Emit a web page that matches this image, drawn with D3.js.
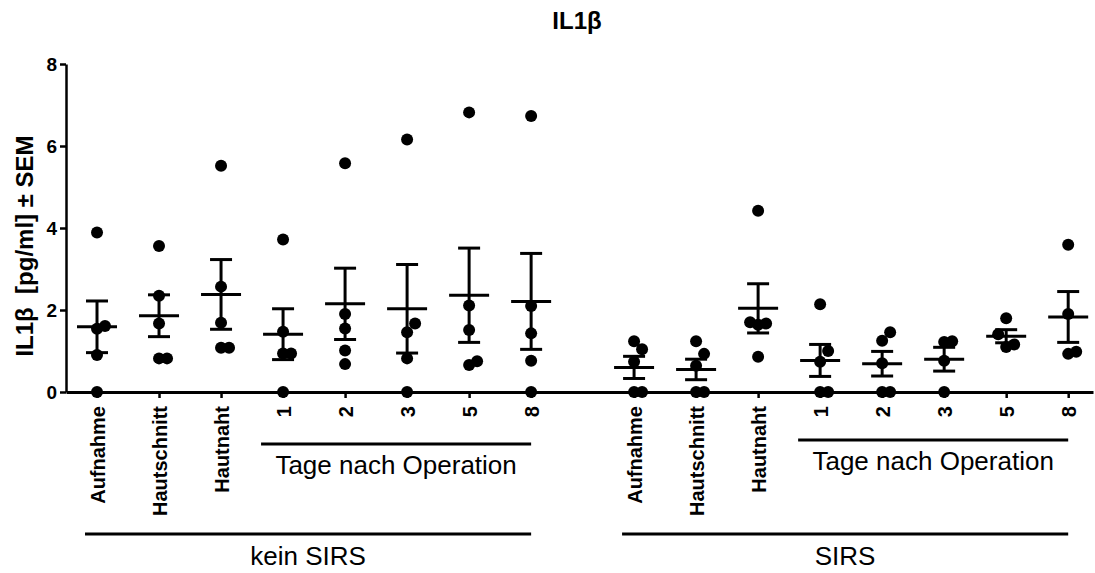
<!DOCTYPE html>
<html>
<head>
<meta charset="utf-8">
<script src="https://cdn.jsdelivr.net/npm/d3@7"></script>
<style>
  body { margin: 0; background: #fff; }
  svg { font-family: 'Liberation Sans', Arial, sans-serif; }
</style>
</head>
<body>
<svg id="chart"></svg>
<script>
let width = 1095
let height = 573

// categories along the x axis, same for both groups
let categories = ['Aufnahme', 'Hautschnitt', 'Hautnaht', '1', '2', '3', '5', '8']
let groups = ['kein SIRS', 'SIRS']
let yTicks = [0, 2, 4, 6, 8]

// single values (pg/ml)
let keinSirsPoints = [
    [0, 0.90, 1.54, 1.61, 3.89],
    [0.82, 0.82, 1.67, 2.35, 3.56],
    [1.08, 1.08, 1.69, 2.57, 5.52],
    [0, 0.94, 0.94, 1.47, 3.72],
    [0.68, 1.01, 1.55, 1.90, 5.58],
    [0, 0.82, 1.46, 1.67, 6.16],
    [0.66, 0.75, 1.51, 2.11, 6.82],
    [0, 0.76, 1.43, 2.10, 6.73]
]
let sirsPoints = [
    [0, 0, 0.74, 1.04, 1.24],
    [0, 0, 0.64, 0.93, 1.24],
    [0.86, 1.64, 1.67, 1.70, 4.42],
    [0, 0, 0.74, 1.00, 2.14],
    [0, 0, 0.70, 1.25, 1.46],
    [0, 0.76, 1.22, 1.24],
    [1.10, 1.16, 1.41, 1.80],
    [0.93, 0.98, 1.90, 3.59]
]

// mean and SEM as drawn
let keinSirsMean = [1.59, 1.86, 2.38, 1.41, 2.15, 2.03, 2.36, 2.21]
let keinSirsSem = [0.63, 0.51, 0.85, 0.62, 0.87, 1.08, 1.15, 1.17]
let sirsMean = [0.60, 0.55, 2.04, 0.77, 0.69, 0.80, 1.36, 1.83]
let sirsSem = [0.27, 0.25, 0.60, 0.39, 0.30, 0.29, 0.16, 0.62]

let groupGap = 8.66   // slot where the second group starts

let svg = d3.select('#chart')
    .attr('width', width)
    .attr('height', height)

let xScale = d3.scaleLinear()
    .domain([-0.5, 16.06])
    .range([66, 1093])

let yScale = d3.scaleLinear()
    .domain([0, 8])
    .range([392, 64])

// build one row per category/group
let rows = []
groups.forEach((g, gi) => {
    let pts = gi == 0 ? keinSirsPoints : sirsPoints
    let means = gi == 0 ? keinSirsMean : sirsMean
    let sems = gi == 0 ? keinSirsSem : sirsSem
    categories.forEach((c, ci) => {
        rows.push({
            group: g,
            category: c,
            slot: ci + gi * groupGap,
            values: pts[ci],
            mean: means[ci],
            sem: sems[ci]
        })
    })
})

// spread overlapping dots sideways
let swarm = (row) => {
    let placed = []
    let sorted = row.values.slice().sort((a, b) => a - b)
    sorted.forEach((v) => {
        let y = yScale(v)
        let candidates = [0, 8, -8, 16, -16]
        let dx = candidates.find((o) => {
            return !placed.some((p) => p.dx == o && Math.abs(p.y - y) < 13)
        })
        placed.push({ v: v, y: y, dx: dx })
    })
    return placed
}

// y axis
let yAxis = d3.axisLeft(yScale)
    .tickValues(yTicks)
    .tickSize(6)
    .tickSizeOuter(0)
    .tickPadding(3)

let yG = svg.append('g')
    .attr('transform', 'translate(66, 0)')
    .call(yAxis)
yG.select('.domain').attr('stroke-width', 2.5)
yG.selectAll('.tick line').attr('stroke-width', 2.5)
yG.selectAll('.tick text')
    .attr('font-size', 19)
    .attr('font-weight', 'bold')
    .attr('fill', '#000')

// x axis
let xAxis = d3.axisBottom(xScale)
    .tickValues(rows.map((r) => r.slot))
    .tickFormat((d, i) => rows[i].category)
    .tickSize(6)
    .tickSizeOuter(0)

let xG = svg.append('g')
    .attr('transform', 'translate(0, 392)')
    .call(xAxis)
xG.select('.domain').attr('stroke-width', 3)
xG.selectAll('.tick line').attr('stroke-width', 2.5)
xG.selectAll('.tick text')
    .attr('font-size', 20)
    .attr('font-weight', 'bold')
    .attr('fill', '#000')
    .attr('text-anchor', 'end')
    .attr('transform', 'translate(0, 14) rotate(-90)')
    .attr('x', 0)
    .attr('y', 0)
    .attr('dy', '0.36em')

// error bars
let bars = svg.append('g')
    .selectAll('g')
    .data(rows)
    .enter()
    .append('g')
    .attr('stroke', '#000')
    .attr('stroke-width', 3)

bars.append('line')
    .attr('x1', (r) => xScale(r.slot))
    .attr('x2', (r) => xScale(r.slot))
    .attr('y1', (r) => yScale(r.mean - r.sem))
    .attr('y2', (r) => yScale(r.mean + r.sem))
bars.append('line')
    .attr('x1', (r) => xScale(r.slot) - 11)
    .attr('x2', (r) => xScale(r.slot) + 11)
    .attr('y1', (r) => yScale(r.mean + r.sem))
    .attr('y2', (r) => yScale(r.mean + r.sem))
bars.append('line')
    .attr('x1', (r) => xScale(r.slot) - 11)
    .attr('x2', (r) => xScale(r.slot) + 11)
    .attr('y1', (r) => yScale(r.mean - r.sem))
    .attr('y2', (r) => yScale(r.mean - r.sem))
bars.append('line')
    .attr('x1', (r) => xScale(r.slot) - 20)
    .attr('x2', (r) => xScale(r.slot) + 20)
    .attr('y1', (r) => yScale(r.mean))
    .attr('y2', (r) => yScale(r.mean))

// dots
rows.forEach((r) => {
    svg.append('g')
        .selectAll('circle')
        .data(swarm(r))
        .enter()
        .append('circle')
        .attr('cx', (p) => xScale(r.slot) + p.dx)
        .attr('cy', (p) => p.y)
        .attr('r', 6)
        .attr('fill', '#000')
})

// brackets under the axis
let brackets = svg.append('g')
groups.forEach((g, gi) => {
    let first = xScale(0 + gi * groupGap)
    let day1 = xScale(3 + gi * groupGap)
    let last = xScale(7 + gi * groupGap)
    let lift = gi == 0 ? 0 : 4

    brackets.append('line')
        .attr('x1', day1 - 22).attr('x2', last)
        .attr('y1', 444 - lift).attr('y2', 444 - lift)
        .attr('stroke', '#000').attr('stroke-width', 3)
    brackets.append('text')
        .attr('x', (day1 - 22 + last) / 2)
        .attr('y', 474 - lift)
        .attr('text-anchor', 'middle')
        .attr('font-size', 26)
        .text('Tage nach Operation')

    brackets.append('line')
        .attr('x1', first - 12).attr('x2', last)
        .attr('y1', 534).attr('y2', 534)
        .attr('stroke', '#000').attr('stroke-width', 3)
    brackets.append('text')
        .attr('x', (first - 12 + last) / 2)
        .attr('y', 565)
        .attr('text-anchor', 'middle')
        .attr('font-size', 26)
        .text(g)
})

// title and y label
svg.append('text')
    .attr('x', 577)
    .attr('y', 29)
    .attr('text-anchor', 'middle')
    .attr('font-size', 24)
    .attr('font-weight', 'bold')
    .text('IL1β')

svg.append('text')
    .attr('transform', 'translate(33, 246) rotate(-90)')
    .attr('text-anchor', 'middle')
    .attr('font-size', 24)
    .attr('font-weight', 'bold')
    .attr('xml:space', 'preserve')
    .text('IL1β  [pg/ml] ± SEM')
</script>
</body>
</html>
